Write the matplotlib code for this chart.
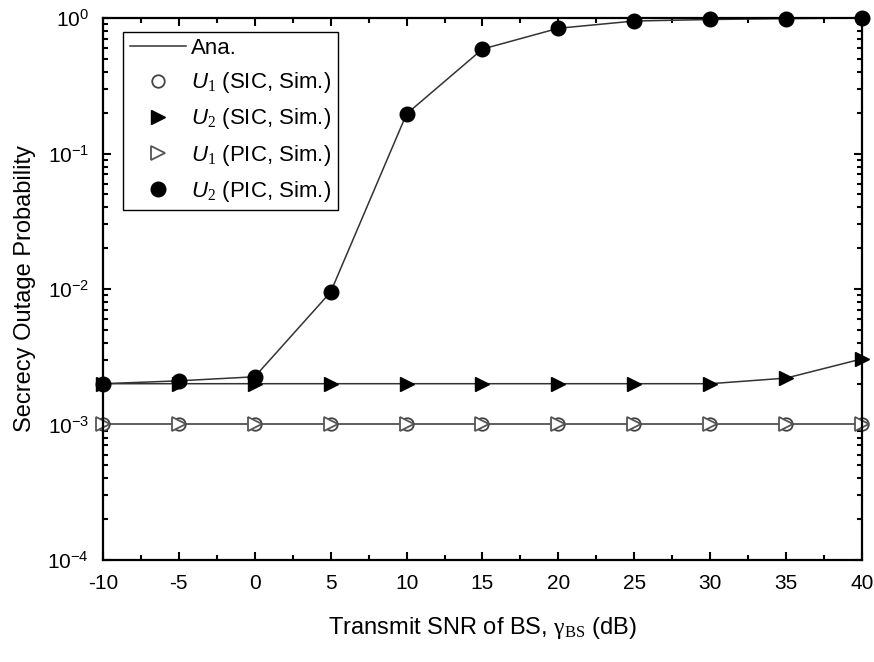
import matplotlib
matplotlib.use('Agg')
import matplotlib.pyplot as plt
from matplotlib.ticker import LogLocator, MultipleLocator, NullFormatter, FormatStrFormatter

plt.rcParams['font.family'] = ['Liberation Sans', 'DejaVu Sans']
plt.rcParams['mathtext.fontset'] = 'custom'
plt.rcParams['mathtext.rm'] = 'Liberation Serif'
plt.rcParams['mathtext.it'] = 'Liberation Sans:italic'
plt.rcParams['axes.unicode_minus'] = False

# transmit SNR of BS (dB)
snr = [-10, -5, 0, 5, 10, 15, 20, 25, 30, 35, 40]
# secrecy outage probability
u1_sic = [1e-3] * 11
u2_sic = [2e-3, 2e-3, 2e-3, 2e-3, 2e-3, 2e-3, 2e-3, 2e-3, 2e-3, 2.2e-3, 3.05e-3]
u1_pic = [1e-3] * 11
u2_pic = [2e-3, 2.1e-3, 2.25e-3, 9.5e-3, 0.196, 0.59, 0.84, 0.95, 0.975, 0.99, 1.0]

fig = plt.figure(figsize=(8.74, 6.62), dpi=100)
ax = fig.add_axes([0.1178, 0.1541, 0.8685, 0.8187])

lc = '#333333'
# analytical curves
ax.plot(snr, u1_sic, color=lc, lw=1.1, label='Ana.')
ax.plot(snr, u2_sic, color=lc, lw=1.1)
ax.plot(snr, u2_pic, color=lc, lw=1.1)

# simulation markers
ax.plot(snr, u1_sic, 'o', ms=9, mfc='white', mec='#444444', mew=1.3, ls='none',
        label=r'$\mathit{U}_{\mathit{1}}$ (SIC, Sim.)', clip_on=False)
ax.plot(snr, u2_sic, '>', ms=10, mfc='black', mec='black', ls='none',
        label=r'$\mathit{U}_{\mathit{2}}$ (SIC, Sim.)', clip_on=False)
ax.plot(snr, u1_pic, '>', ms=10, mfc='white', mec='#555555', mew=1.3, ls='none',
        label=r'$\mathit{U}_{\mathit{1}}$ (PIC, Sim.)', clip_on=False)
ax.plot(snr, u2_pic, 'o', ms=10.5, mfc='black', mec='black', ls='none',
        label=r'$\mathit{U}_{\mathit{2}}$ (PIC, Sim.)', clip_on=False)

ax.set_yscale('log')
ax.set_ylim(1e-4, 1)
ax.set_xlim(-10, 40)
ax.xaxis.set_major_locator(MultipleLocator(5))
ax.xaxis.set_minor_locator(MultipleLocator(2.5))
ax.xaxis.set_major_formatter(FormatStrFormatter('%d'))
ax.yaxis.set_major_locator(LogLocator(base=10, numticks=10))
ax.yaxis.set_minor_locator(LogLocator(base=10, subs=range(2, 10), numticks=20))
ax.yaxis.set_minor_formatter(NullFormatter())

ax.tick_params(which='both', direction='in', top=True, right=True, width=1.5,
               labelsize=15)
ax.tick_params(which='major', length=6)
ax.tick_params(which='minor', length=3.5)
ax.tick_params(axis='x', pad=10)
ax.tick_params(axis='y', pad=10)
for s in ax.spines.values():
    s.set_linewidth(1.6)

ax.set_xlabel(r'Transmit SNR of BS, $\mathrm{\gamma}_{\mathrm{BS}}$ (dB)', fontsize=17, labelpad=16)
ax.set_ylabel('Secrecy Outage Probability', fontsize=17, labelpad=8)

leg = ax.legend(loc='upper left', bbox_to_anchor=(0.027, 0.975), borderaxespad=0,
                fancybox=False, edgecolor='black', fontsize=16, handlelength=2.5,
                labelspacing=0.5, handletextpad=0.25, borderpad=0.3, framealpha=1)
leg.get_frame().set_linewidth(1.0)

fig.savefig('out.png', dpi=100)
